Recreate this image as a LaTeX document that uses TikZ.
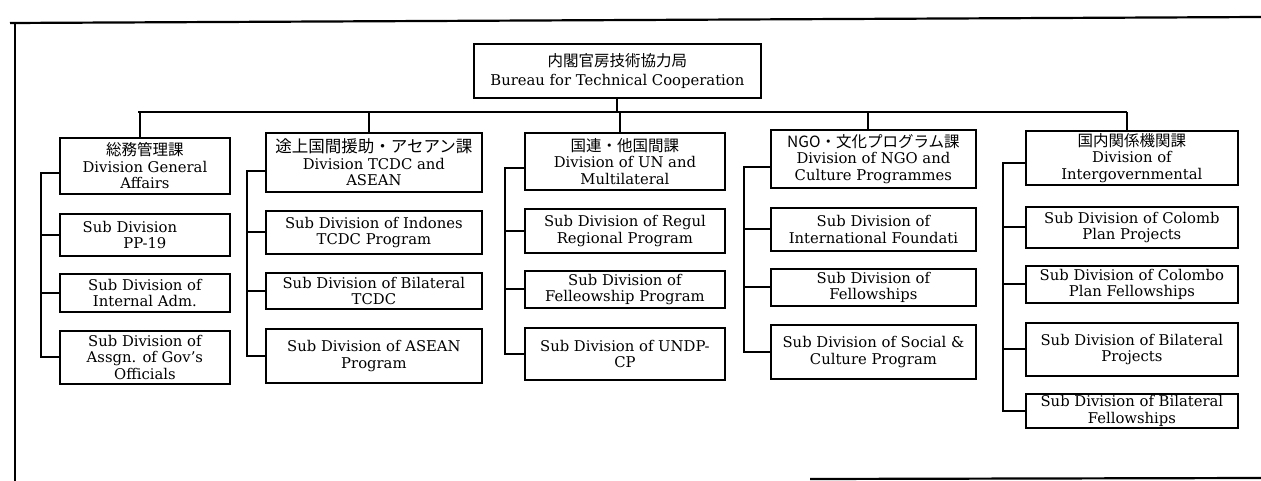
\documentclass[tikz,border=0pt]{standalone}
\usepackage{fontspec}
\setmainfont{DejaVu Serif}
\newfontfamily\cjk{Noto Sans CJK JP}
\begin{document}
\begin{tikzpicture}[x=1pt,y=-1pt,
  box/.style={draw, line width=1.8pt, align=center, inner sep=0pt, anchor=north west,
    font=\fontsize{14.8}{16.5}\selectfont},
  jp/.style={},
  ln/.style={line width=2pt},
  frameline/.style={line width=2.2pt}]
\useasboundingbox (0,0) rectangle (1261,481);
% frame
\draw[frameline] (10,23) -- (1261,17);
\draw[frameline] (15,23) -- (15,481);
\draw[frameline] (810,479) -- (1261,478);

% top
\node[box, minimum width=287pt, minimum height=54pt] (top) at (473,43)
  {{\cjk\fontsize{15.5}{16.5}\selectfont 内閣官房技術協力局}\\[3pt]Bureau for Technical Cooperation};

% column 1
\node[box, minimum width=170pt, minimum height=56pt] (d1) at (59,137)
  {{\cjk\fontsize{15.5}{16.5}\selectfont 総務管理課}\\Division General\\Affairs};
\node[box, minimum width=170pt, minimum height=42pt] (a1) at (59,213)
  {Sub Division\hspace*{30pt}\\PP-19};
\node[box, minimum width=170pt, minimum height=38pt] (a2) at (59,273)
  {Sub Division of\\Internal Adm.};
\node[box, minimum width=170pt, minimum height=53pt] (a3) at (59,330)
  {Sub Division of\\Assgn. of Gov's\\Officials};

% column 2
\node[box, minimum width=216pt, minimum height=59pt] (d2) at (265,132)
  {{\cjk\fontsize{16.5}{16.5}\selectfont 途上国間援助・アセアン課}\\Division TCDC and\\ASEAN};
\node[box, minimum width=216pt, minimum height=43pt] (b1) at (265,210)
  {Sub Division of Indones\\TCDC Program};
\node[box, minimum width=216pt, minimum height=36pt] (b2) at (265,272)
  {Sub Division of Bilateral\\TCDC};
\node[box, minimum width=216pt, minimum height=54pt] (b3) at (265,328)
  {Sub Division of ASEAN\\Program};

% column 3
\node[box, minimum width=200pt, minimum height=57pt] (d3) at (524,132)
  {{\cjk\fontsize{15.5}{16.5}\selectfont 国連・他国間課}\\Division of UN and\\Multilateral};
\node[box, minimum width=200pt, minimum height=44pt] (c1) at (524,208)
  {Sub Division of Regul\\Regional Program};
\node[box, minimum width=200pt, minimum height=37pt] (c2) at (524,270)
  {Sub Division of\\Felleowship Program};
\node[box, minimum width=200pt, minimum height=52pt] (c3) at (524,327)
  {Sub Division of UNDP-\\CP};

% column 4
\node[box, minimum width=205pt, minimum height=58pt] (d4) at (770,129)
  {{\cjk\fontsize{15.5}{16.5}\selectfont NGO・文化プログラム課}\\Division of NGO and\\Culture Programmes};
\node[box, minimum width=205pt, minimum height=43pt] (e1) at (770,207)
  {Sub Division of\\International Foundati};
\node[box, minimum width=205pt, minimum height=37pt] (e2) at (770,268)
  {Sub Division of\\Fellowships};
\node[box, minimum width=205pt, minimum height=54pt] (e3) at (770,324)
  {Sub Division of Social \&\\Culture Program};

% column 5
\node[box, minimum width=212pt, minimum height=54pt] (d5) at (1025,130)
  {{\cjk\fontsize{15.5}{16.5}\selectfont 国内関係機関課}\\Division of\\Intergovernmental};
\node[box, minimum width=212pt, minimum height=41pt] (f1) at (1025,206)
  {Sub Division of Colomb\\Plan Projects};
\node[box, minimum width=212pt, minimum height=37pt] (f2) at (1025,265)
  {Sub Division of Colombo\\Plan Fellowships};
\node[box, minimum width=212pt, minimum height=53pt] (f3) at (1025,322)
  {Sub Division of Bilateral\\Projects};
\node[box, minimum width=212pt, minimum height=34pt] (f4) at (1025,393)
  {Sub Division of Bilateral\\Fellowships};

% bus
\coordinate (busL) at (138,112);
\coordinate (busR) at (1127,112);
\draw[ln] (busL) -- (busR);
\draw[ln] (top.south) -- (top.south |- busL);
\foreach \d in {d1,d2,d3,d4,d5}
  \draw[ln] ([xshift=-5pt]\d.north) -- ([xshift=-5pt]\d.north |- busL);

% brackets
\coordinate (k1) at (41,0);
\coordinate (k2) at (247,0);
\coordinate (k3) at (505,0);
\coordinate (k4) at (744,0);
\coordinate (k5) at (1003,0);
\draw[ln] ([yshift=-7pt]d1.west) -| (k1 |- a3.west) -- (a3.west);
\draw[ln] (a1.west) -- (a1.west -| k1);
\draw[ln] (a2.west) -- (a2.west -| k1);
\draw[ln] ([yshift=-9pt]d2.west) -| (k2 |- b3.west) -- (b3.west);
\draw[ln] (b1.west) -- (b1.west -| k2);
\draw[ln] (b2.west) -- (b2.west -| k2);
\draw[ln] ([yshift=-7pt]d3.west) -| (k3 |- c3.west) -- (c3.west);
\draw[ln] (c1.west) -- (c1.west -| k3);
\draw[ln] (c2.west) -- (c2.west -| k3);
\draw[ln] ([yshift=-8pt]d4.west) -| (k4 |- e3.west) -- (e3.west);
\draw[ln] (e1.west) -- (e1.west -| k4);
\draw[ln] (e2.west) -- (e2.west -| k4);
\draw[ln] ([yshift=-5pt]d5.west) -| (k5 |- f4.west) -- (f4.west);
\draw[ln] (f1.west) -- (f1.west -| k5);
\draw[ln] (f2.west) -- (f2.west -| k5);
\draw[ln] (f3.west) -- (f3.west -| k5);
\end{tikzpicture}
\end{document}
